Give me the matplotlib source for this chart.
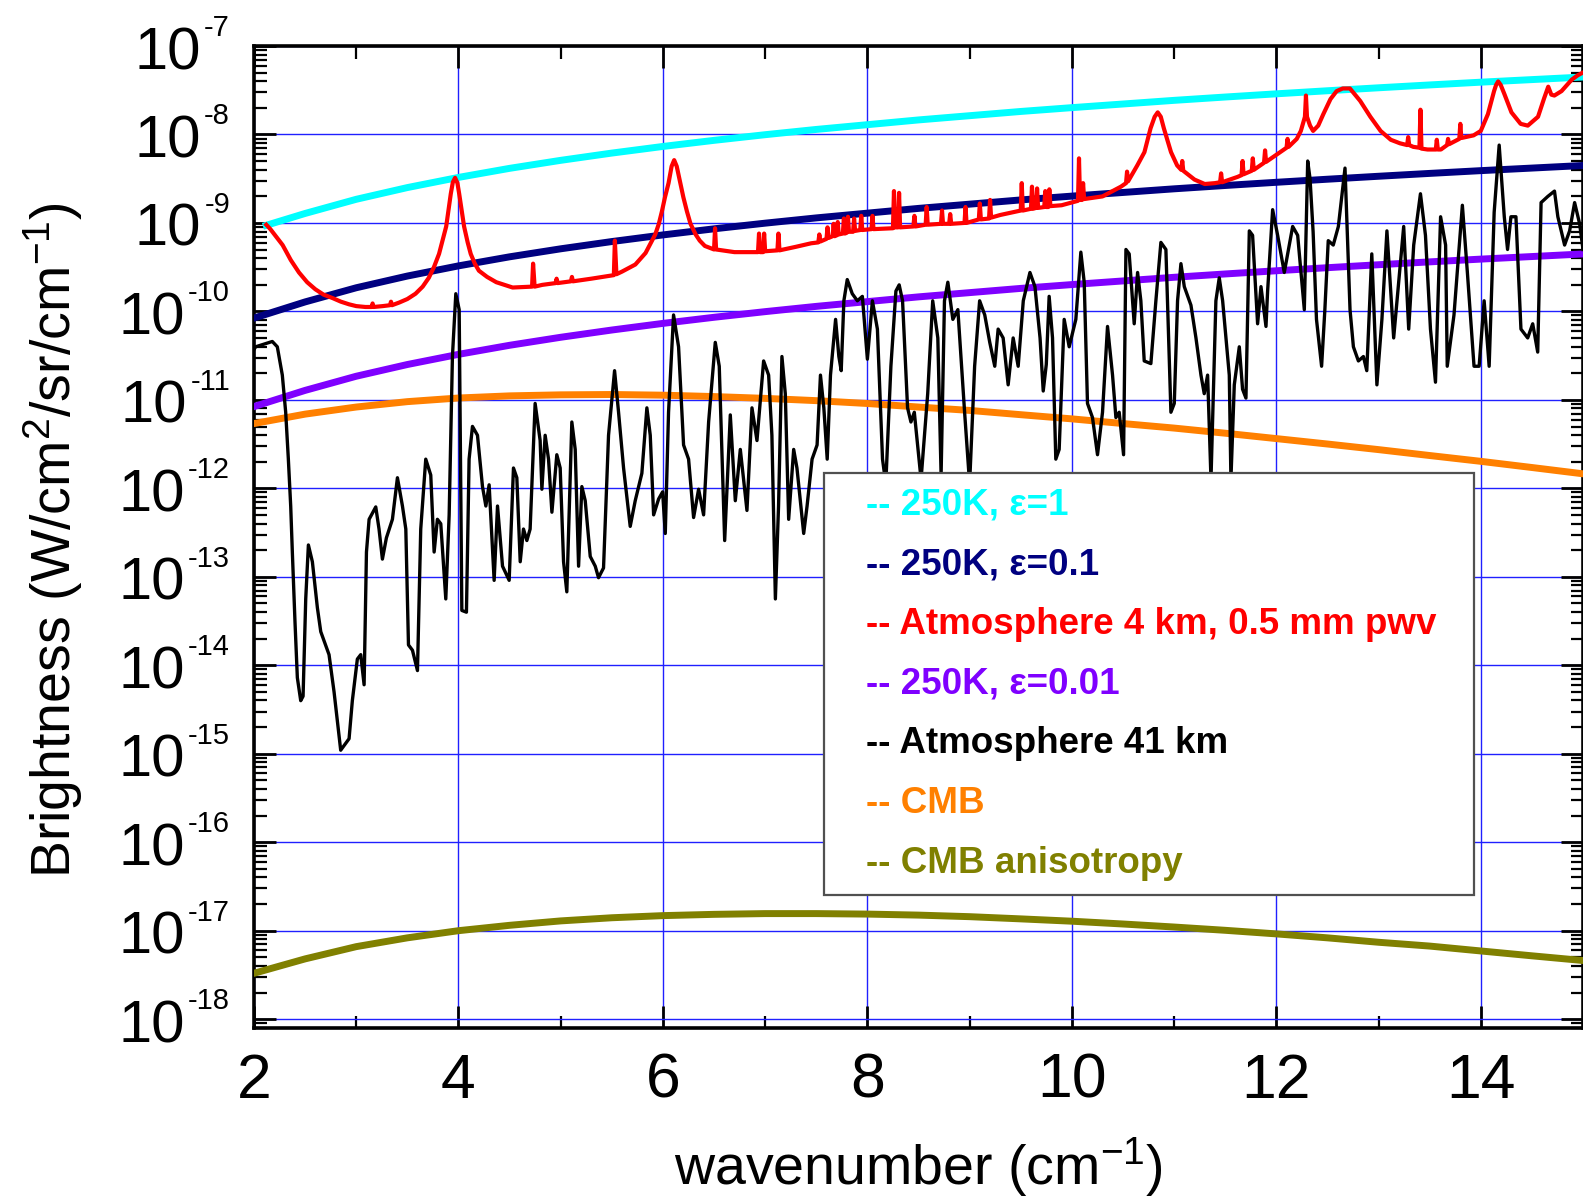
import numpy as np
import matplotlib
matplotlib.use("Agg")
import matplotlib.pyplot as plt
from matplotlib.ticker import LogLocator, MultipleLocator, NullFormatter

plt.rcParams['font.family'] = ['Liberation Sans', 'DejaVu Sans']
plt.rcParams['mathtext.fontset'] = 'custom'
plt.rcParams['mathtext.rm'] = 'Liberation Sans'
plt.rcParams['mathtext.it'] = 'Liberation Sans:italic'
plt.rcParams['mathtext.bf'] = 'Liberation Sans:bold'

# ---------------- data ----------------
# wavenumber grid of the smooth curves (cm^-1)
wn = [2.0, 2.5, 3.0, 3.5, 4.0, 4.5, 5.0, 5.5, 6.0, 6.5, 7.0, 7.5, 8.0, 8.5,
      9.0, 9.5, 10.0, 10.5, 11.0, 11.5, 12.0, 12.5, 13.0, 13.5, 14.0, 14.5, 15.0]

# 250 K grey body, emissivity 1 (starts a little after 2 cm^-1)
bb_e1_x = [2.12] + wn[1:]
bb_e1 = [9.4e-10, 1.28e-9, 1.85e-9, 2.51e-9, 3.27e-9, 4.14e-9, 5.10e-9, 6.16e-9,
         7.32e-9, 8.58e-9, 9.94e-9, 1.14e-8, 1.29e-8, 1.46e-8, 1.63e-8, 1.82e-8,
         2.01e-8, 2.21e-8, 2.43e-8, 2.65e-8, 2.88e-8, 3.12e-8, 3.37e-8, 3.63e-8,
         3.90e-8, 4.17e-8, 4.46e-8]
# 250 K, emissivity 0.1
bb_e01 = [8.4e-11, 1.28e-10, 1.85e-10, 2.51e-10, 3.27e-10, 4.14e-10, 5.10e-10, 6.16e-10,
          7.32e-10, 8.58e-10, 9.94e-10, 1.14e-9, 1.29e-9, 1.46e-9, 1.63e-9, 1.82e-9,
          2.01e-9, 2.21e-9, 2.43e-9, 2.65e-9, 2.88e-9, 3.12e-9, 3.37e-9, 3.63e-9,
          3.90e-9, 4.17e-9, 4.46e-9]
# 250 K, emissivity 0.01
bb_e001 = [8.4e-12, 1.28e-11, 1.85e-11, 2.51e-11, 3.27e-11, 4.14e-11, 5.10e-11, 6.16e-11,
           7.32e-11, 8.58e-11, 9.94e-11, 1.14e-10, 1.29e-10, 1.46e-10, 1.63e-10, 1.82e-10,
           2.01e-10, 2.21e-10, 2.43e-10, 2.65e-10, 2.88e-10, 3.12e-10, 3.37e-10, 3.63e-10,
           3.90e-10, 4.17e-10, 4.46e-10]
# CMB
cmb = [5.4e-12, 6.9e-12, 8.3e-12, 9.55e-12, 1.05e-11, 1.11e-11, 1.14e-11, 1.15e-11,
       1.13e-11, 1.09e-11, 1.04e-11, 9.8e-12, 9.1e-12, 8.3e-12, 7.6e-12, 6.8e-12,
       6.1e-12, 5.4e-12, 4.8e-12, 4.2e-12, 3.65e-12, 3.17e-12, 2.74e-12, 2.35e-12,
       2.02e-12, 1.72e-12, 1.46e-12]
# CMB anisotropy
cmb_aniso = [3.3e-18, 4.8e-18, 6.6e-18, 8.3e-18, 1.0e-17, 1.15e-17, 1.29e-17, 1.40e-17,
             1.48e-17, 1.53e-17, 1.56e-17, 1.56e-17, 1.54e-17, 1.50e-17, 1.44e-17, 1.36e-17,
             1.28e-17, 1.19e-17, 1.10e-17, 1.01e-17, 9.2e-18, 8.3e-18, 7.4e-18, 6.7e-18,
             5.9e-18, 5.2e-18, 4.6e-18]

# Atmosphere at 4 km, 0.5 mm pwv  (log10 of brightness)
atm4_x = [2.12, 2.16, 2.20, 2.28, 2.36, 2.44, 2.52, 2.60, 2.68, 2.77,
          2.85, 2.93, 3.00, 3.09, 3.15, 3.16, 3.17, 3.26, 3.33, 3.34,
          3.35, 3.42, 3.50, 3.58, 3.65, 3.71, 3.76, 3.81, 3.88, 3.925,
          3.945, 3.967, 3.99, 4.007, 4.055, 4.09, 4.12, 4.16, 4.20, 4.28,
          4.37, 4.53, 4.72, 4.73, 4.745, 4.82, 4.95, 4.96, 4.97, 5.10,
          5.11, 5.12, 5.30, 5.47, 5.52, 5.53, 5.545, 5.60, 5.73, 5.83,
          5.925, 5.96, 5.99, 6.02, 6.055, 6.085, 6.11, 6.135, 6.17, 6.20,
          6.235, 6.27, 6.32, 6.36, 6.41, 6.50, 6.51, 6.52, 6.58, 6.70,
          6.93, 6.94, 6.95, 6.98, 6.99, 7.00, 7.12, 7.13, 7.14, 7.30,
          7.45, 7.52, 7.53, 7.54, 7.60, 7.61, 7.62, 7.66, 7.67, 7.68,
          7.70, 7.71, 7.72, 7.76, 7.77, 7.78, 7.80, 7.81, 7.82, 7.86,
          7.87, 7.88, 7.93, 7.94, 7.95, 8.04, 8.05, 8.06, 8.25, 8.26,
          8.27, 8.30, 8.31, 8.32, 8.45, 8.46, 8.47, 8.57, 8.58, 8.59,
          8.72, 8.73, 8.74, 8.80, 8.81, 8.82, 8.95, 8.96, 8.97, 9.09,
          9.10, 9.11, 9.19, 9.20, 9.21, 9.30, 9.50, 9.51, 9.52, 9.60,
          9.61, 9.62, 9.65, 9.66, 9.67, 9.73, 9.74, 9.75, 9.77, 9.78,
          9.79, 9.90, 10.03, 10.06, 10.07, 10.08, 10.10, 10.11, 10.12, 10.30,
          10.48, 10.53, 10.54, 10.55, 10.64, 10.71, 10.77, 10.81, 10.84, 10.87,
          10.90, 10.97, 11.03, 11.07, 11.08, 11.09, 11.20, 11.30, 11.40, 11.45,
          11.46, 11.47, 11.62, 11.66, 11.67, 11.68, 11.76, 11.77, 11.78, 11.88,
          11.89, 11.90, 11.95, 12.00, 12.10, 12.11, 12.12, 12.20, 12.24, 12.28,
          12.29, 12.30, 12.33, 12.36, 12.41, 12.46, 12.53, 12.59, 12.65, 12.72,
          12.77, 12.82, 12.92, 13.02, 13.12, 13.21, 13.28, 13.29, 13.30, 13.34,
          13.40, 13.41, 13.42, 13.48, 13.56, 13.57, 13.58, 13.61, 13.67, 13.68,
          13.69, 13.79, 13.80, 13.81, 13.93, 14.00, 14.07, 14.13, 14.15, 14.17,
          14.195, 14.23, 14.30, 14.39, 14.46, 14.56, 14.62, 14.66, 14.69, 14.72,
          14.79, 14.89, 14.95, 15.00]
atm4_log = [-9.02, -9.07, -9.13, -9.25, -9.42, -9.56, -9.67, -9.75, -9.81, -9.85,
            -9.89, -9.92, -9.94, -9.95, -9.95, -9.91, -9.95, -9.94, -9.93, -9.89,
            -9.93, -9.90, -9.86, -9.80, -9.72, -9.62, -9.50, -9.35, -9.04, -8.67,
            -8.54, -8.49, -8.55, -8.67, -9.04, -9.22, -9.35, -9.46, -9.54, -9.61,
            -9.67, -9.73, -9.72, -9.46, -9.72, -9.70, -9.68, -9.63, -9.68, -9.66,
            -9.61, -9.66, -9.63, -9.60, -9.59, -9.20, -9.58, -9.55, -9.47, -9.34,
            -9.13, -9.01, -8.87, -8.71, -8.55, -8.36, -8.29, -8.36, -8.55, -8.71,
            -8.87, -9.01, -9.13, -9.20, -9.26, -9.30, -9.06, -9.30, -9.31, -9.33,
            -9.33, -9.12, -9.33, -9.33, -9.12, -9.32, -9.31, -9.12, -9.31, -9.27,
            -9.23, -9.22, -9.13, -9.21, -9.18, -9.05, -9.17, -9.15, -9.01, -9.15,
            -9.14, -8.99, -9.13, -9.12, -8.95, -9.12, -9.11, -8.93, -9.10, -9.10,
            -8.95, -9.09, -9.08, -8.92, -9.08, -9.07, -8.92, -9.07, -9.06, -8.64,
            -9.05, -9.05, -8.66, -9.05, -9.04, -8.92, -9.04, -9.02, -8.82, -9.02,
            -9.01, -8.86, -9.01, -9.01, -8.90, -9.01, -9.00, -8.82, -9.00, -8.96,
            -8.78, -8.96, -8.95, -8.74, -8.94, -8.91, -8.86, -8.55, -8.86, -8.84,
            -8.59, -8.84, -8.83, -8.61, -8.83, -8.82, -8.64, -8.82, -8.82, -8.62,
            -8.81, -8.80, -8.76, -8.75, -8.27, -8.74, -8.74, -8.55, -8.73, -8.70,
            -8.59, -8.55, -8.42, -8.53, -8.35, -8.20, -7.93, -7.80, -7.75, -7.80,
            -7.93, -8.20, -8.35, -8.40, -8.30, -8.41, -8.51, -8.56, -8.55, -8.54,
            -8.44, -8.54, -8.48, -8.46, -8.30, -8.45, -8.41, -8.27, -8.40, -8.32,
            -8.18, -8.31, -8.27, -8.23, -8.15, -8.05, -8.14, -8.05, -7.96, -7.80,
            -7.56, -7.80, -7.90, -7.96, -7.90, -7.77, -7.60, -7.51, -7.48, -7.48,
            -7.55, -7.62, -7.80, -7.96, -8.06, -8.10, -8.12, -8.03, -8.12, -8.14,
            -8.15, -7.72, -8.16, -8.17, -8.17, -8.06, -8.17, -8.17, -8.12, -8.05,
            -8.11, -8.05, -7.88, -8.04, -8.01, -7.96, -7.77, -7.51, -7.44, -7.40,
            -7.44, -7.54, -7.75, -7.88, -7.90, -7.80, -7.59, -7.46, -7.55, -7.56,
            -7.51, -7.38, -7.33, -7.30]

# Atmosphere at 41 km (log10 of brightness)
atm41_x = [2.00, 2.016, 2.179, 2.228, 2.277, 2.31, 2.336, 2.359, 2.375, 2.401, 2.424, 2.457,
           2.48, 2.506, 2.532, 2.571, 2.62, 2.653, 2.734, 2.783, 2.848, 2.93, 2.962, 3.011,
           3.044, 3.077, 3.10, 3.126, 3.191, 3.223, 3.256, 3.295, 3.354, 3.403, 3.452, 3.485,
           3.511, 3.55, 3.599, 3.631, 3.68, 3.729, 3.762, 3.794, 3.827, 3.876, 3.909, 3.941,
           3.974, 4.007, 4.033, 4.078, 4.104, 4.137, 4.186, 4.235, 4.268, 4.30, 4.349, 4.382,
           4.431, 4.496, 4.538, 4.571, 4.604, 4.636, 4.669, 4.701, 4.75, 4.799, 4.816, 4.848,
           4.881, 4.914, 4.962, 4.995, 5.028, 5.06, 5.109, 5.142, 5.175, 5.207, 5.24, 5.289,
           5.338, 5.37, 5.419, 5.468, 5.527, 5.566, 5.615, 5.68, 5.729, 5.794, 5.843, 5.876,
           5.909, 5.958, 5.997, 6.023, 6.055, 6.104, 6.153, 6.202, 6.251, 6.30, 6.349, 6.398,
           6.447, 6.512, 6.551, 6.604, 6.659, 6.708, 6.757, 6.822, 6.871, 6.92, 6.985, 7.034,
           7.066, 7.10, 7.131, 7.164, 7.197, 7.23, 7.279, 7.311, 7.377, 7.41, 7.459, 7.508,
           7.541, 7.574, 7.607, 7.639, 7.689, 7.721, 7.744, 7.77, 7.803, 7.852, 7.902, 7.951,
           8.00, 8.049, 8.098, 8.148, 8.18, 8.23, 8.279, 8.311, 8.344, 8.393, 8.426, 8.459,
           8.525, 8.59, 8.639, 8.689, 8.721, 8.754, 8.787, 8.836, 8.885, 8.951, 9.00, 9.049,
           9.098, 9.148, 9.197, 9.246, 9.279, 9.328, 9.377, 9.426, 9.475, 9.525, 9.59, 9.639,
           9.689, 9.72, 9.75, 9.778, 9.811, 9.843, 9.876, 9.925, 9.974, 10.039, 10.088, 10.121,
           10.153, 10.202, 10.251, 10.30, 10.349, 10.398, 10.431, 10.463, 10.506, 10.529,
           10.561, 10.61, 10.643, 10.675, 10.708, 10.773, 10.822, 10.871, 10.92, 10.969,
           11.002, 11.034, 11.067, 11.10, 11.165, 11.214, 11.263, 11.295, 11.328, 11.361,
           11.409, 11.442, 11.475, 11.54, 11.556, 11.589, 11.638, 11.67, 11.703, 11.736,
           11.768, 11.817, 11.85, 11.899, 11.915, 11.964, 12.013, 12.078, 12.16, 12.209,
           12.274, 12.307, 12.33, 12.36, 12.393, 12.443, 12.475, 12.508, 12.557, 12.607,
           12.672, 12.721, 12.754, 12.803, 12.852, 12.885, 12.934, 12.984, 13.033, 13.082,
           13.148, 13.197, 13.246, 13.295, 13.344, 13.41, 13.459, 13.508, 13.557, 13.607,
           13.656, 13.672, 13.738, 13.82, 13.869, 13.934, 13.984, 14.033, 14.082, 14.131,
           14.18, 14.23, 14.262, 14.295, 14.344, 14.393, 14.459, 14.508, 14.557, 14.59,
           14.656, 14.721, 14.754, 14.82, 14.869, 14.918, 14.967, 15.0]
atm41_log = [-10.43, -10.40, -10.34, -10.40, -10.72, -11.14, -11.67, -12.20, -12.72, -13.51,
             -14.14, -14.40, -14.35, -13.25, -12.64, -12.83, -13.35, -13.62, -13.88, -14.30,
             -14.96, -14.83, -14.40, -13.93, -13.88, -14.22, -12.72, -12.35, -12.21, -12.46,
             -12.80, -12.56, -12.35, -11.88, -12.20, -12.46, -13.77, -13.83, -14.06, -12.46,
             -11.67, -11.85, -12.72, -12.35, -12.40, -13.25, -12.30, -10.51, -9.80, -9.98,
             -13.38, -13.40, -11.67, -11.30, -11.40, -11.98, -12.20, -11.96, -13.04, -12.20,
             -12.88, -13.04, -11.77, -11.88, -12.83, -12.46, -12.59, -12.46, -11.04, -11.46,
             -12.01, -11.40, -11.67, -12.27, -11.62, -11.77, -12.83, -13.17, -11.25, -11.56,
             -12.88, -11.98, -12.14, -12.77, -12.88, -13.01, -12.90, -11.40, -10.67, -11.14,
             -11.77, -12.43, -12.14, -11.83, -11.09, -11.40, -12.30, -12.12, -12.04, -12.51,
             -11.14, -10.04, -10.40, -11.51, -11.67, -12.33, -12.01, -12.30, -11.25, -10.35,
             -10.62, -12.59, -11.17, -12.14, -11.56, -12.25, -11.09, -11.46, -10.56, -10.72,
             -11.40, -13.25, -12.20, -10.51, -10.93, -12.35, -11.56, -11.77, -12.51, -12.20,
             -11.67, -11.51, -10.72, -11.09, -11.67, -10.72, -10.09, -10.51, -10.67, -9.88,
             -9.64, -9.80, -9.88, -9.83, -10.54, -9.88, -10.20, -11.67, -11.95, -10.62,
             -9.77, -9.70, -9.88, -11.09, -11.25, -11.14, -11.90, -10.93, -9.88, -10.30,
             -11.85, -9.88, -9.67, -10.09, -9.98, -11.14, -11.95, -10.62, -9.88, -10.04,
             -10.35, -10.62, -10.20, -10.30, -10.83, -10.30, -10.62, -9.88, -9.56, -9.72,
             -10.30, -10.90, -10.60, -9.83, -10.30, -11.67, -11.56, -10.09, -10.40, -10.09,
             -9.33, -9.67, -11.04, -11.20, -11.62, -11.14, -10.17, -10.72, -11.20, -11.14,
             -11.62, -9.30, -9.35, -10.14, -9.56, -9.88, -10.56, -10.59, -9.88, -9.22,
             -9.30, -11.14, -11.04, -9.88, -9.46, -9.72, -9.93, -10.30, -10.72, -10.93,
             -10.72, -11.90, -9.88, -9.62, -9.88, -10.72, -11.90, -10.83, -10.40, -10.88,
             -10.98, -9.09, -9.14, -10.14, -9.72, -10.17, -9.77, -8.85, -9.14, -9.56,
             -9.04, -9.14, -9.98, -8.30, -8.50, -9.10, -10.09, -10.62, -9.98, -9.20,
             -9.25, -9.04, -8.38, -9.98, -10.40, -10.56, -10.51, -10.67, -9.35, -10.83,
             -10.09, -9.09, -10.30, -9.67, -9.04, -10.20, -9.25, -8.67, -9.14, -10.20,
             -10.80, -8.93, -9.25, -10.62, -10.04, -8.80, -9.56, -10.62, -10.62, -9.88,
             -10.62, -8.88, -8.12, -8.93, -9.30, -8.93, -8.93, -10.20, -10.30, -10.14,
             -10.46, -8.77, -8.70, -8.64, -8.93, -9.25, -9.09, -8.77, -9.01, -9.30]

legend_labels = ["-- 250K, ε=1", "-- 250K, ε=0.1", "-- Atmosphere 4 km, 0.5 mm pwv",
                 "-- 250K, ε=0.01", "-- Atmosphere 41 km", "-- CMB", "-- CMB anisotropy"]
decades = list(range(7, 19))

# ---------------- figure ----------------
W, H = 1583, 1198
fig = plt.figure(figsize=(W / 100, H / 100), dpi=100)
ax = fig.add_axes([254 / W, 170 / H, 1329 / W, 982 / H])

ax.set_yscale('log')
ax.set_xlim(2, 15)
ax.set_ylim(10 ** -18.1, 1e-7)

thick = 5.0
h_e1, = ax.plot(bb_e1_x, bb_e1, color='#00ffff', lw=thick, zorder=3)
h_e01, = ax.plot(wn, bb_e01, color='#000080', lw=thick, zorder=3)
h_e001, = ax.plot(wn, bb_e001, color='#7f00ff', lw=thick, zorder=3)
h_cmb, = ax.plot(wn, cmb, color='#ff8000', lw=thick, zorder=3)
h_aniso, = ax.plot(wn, cmb_aniso, color='#808000', lw=thick, zorder=3)
h_atm4, = ax.plot(atm4_x, 10.0 ** np.array(atm4_log), color='#ff0000', lw=3.0,
                  zorder=3.2, solid_joinstyle='round')
h_atm41, = ax.plot(atm41_x, 10.0 ** np.array(atm41_log), color='black', lw=2.4,
                   zorder=3.4, solid_joinstyle='round')

# axes, ticks, grid
ax.xaxis.set_major_locator(MultipleLocator(2))
ax.xaxis.set_minor_locator(MultipleLocator(1))
ax.yaxis.set_major_locator(LogLocator(base=10, numticks=40))
ax.yaxis.set_minor_locator(LogLocator(base=10, subs=np.arange(2, 10) * 1.0, numticks=40))
ax.yaxis.set_minor_formatter(NullFormatter())
ax.tick_params(which='both', direction='in', top=True, right=True, labelleft=False,
               labelsize=45, pad=17, colors='black')
ax.tick_params(which='major', length=16, width=2.0)
ax.tick_params(which='minor', length=9, width=1.6)
for s in ax.spines.values():
    s.set_linewidth(2.6)
ax.grid(True, which='major', color='#2020ff', lw=1.0)
ax.set_axisbelow(True)

# y tick labels as 10 with a small raised exponent
renderer = fig.canvas.get_renderer()
for p in decades:
    yv = 10.0 ** -p
    ex = ax.annotate(f"-{p}", xy=(0, yv), xycoords=('axes fraction', 'data'),
                     xytext=(-24, 10), textcoords='offset pixels', ha='right',
                     va='baseline', fontsize=21, annotation_clip=False)
    w = ex.get_window_extent(renderer).width
    ax.annotate("10", xy=(0, yv), xycoords=('axes fraction', 'data'),
                xytext=(-24 - w - 3, -23), textcoords='offset pixels', ha='right',
                va='baseline', fontsize=43, annotation_clip=False)

ax.set_xlabel("wavenumber (cm$^{-1}$)", fontsize=40)
ax.xaxis.set_label_coords(0.5, -0.109)
ax.set_ylabel("Brightness (W/cm$^{2}$/sr/cm$^{-1}$)", fontsize=40)
ax.yaxis.set_label_coords(-0.127, 0.497)

handles = [h_e1, h_e01, h_atm4, h_e001, h_atm41, h_cmb, h_aniso]
leg = ax.legend(handles, legend_labels, loc='upper left',
                bbox_to_anchor=(570 / 1329, 0.1334, 650 / 1329, 0.4318), mode='expand',
                prop={'size': 26.5, 'weight': 'bold'}, labelcolor='linecolor',
                handlelength=0.75, handletextpad=0.0, borderpad=0.4, labelspacing=0.67,
                frameon=True, fancybox=False, framealpha=1.0, borderaxespad=0.0)
leg.get_frame().set_edgecolor('#505050')
leg.get_frame().set_linewidth(1.6)
for h in leg.legend_handles:
    h.set_visible(False)
leg.set_zorder(10)

fig.savefig('out.png', dpi=100)
